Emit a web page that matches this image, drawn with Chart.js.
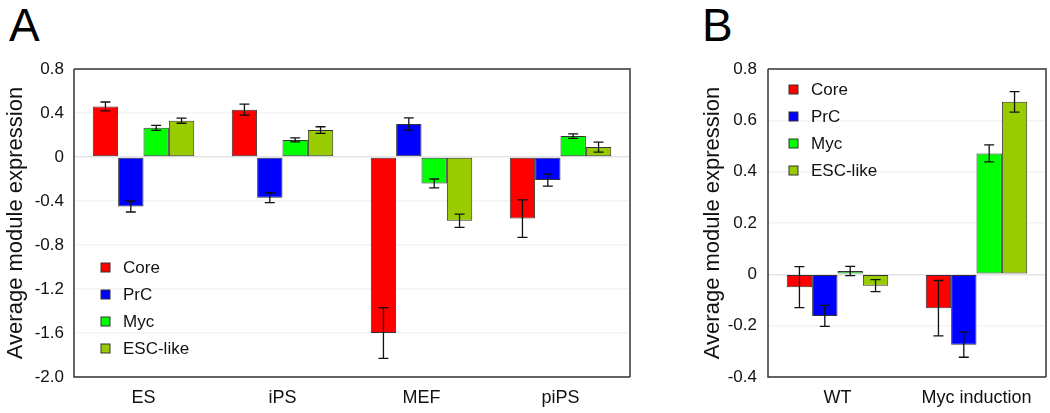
<!DOCTYPE html>
<html>
<head>
<meta charset="utf-8">
<script src="https://cdn.jsdelivr.net/npm/chart.js"></script>
<style>
  body { margin: 0; background: #fff; width: 1050px; height: 413px; position: relative; overflow: hidden; font-family: "Liberation Sans", Arial, sans-serif; }
  canvas { position: absolute; top: 0; }
  #chartA { left: 0; }
  #chartB { left: 690px; }
  .panel { position: absolute; top: -2px; font-size: 46px; line-height: normal; color: #000; }
</style>
</head>
<body>
<div class="panel" style="left:9px">A</div>
<div class="panel" style="left:702px">B</div>
<canvas id="chartA" width="660" height="413"></canvas>
<canvas id="chartB" width="360" height="413"></canvas>
<script>
// Module names and colours
const modules = ['Core', 'PrC', 'Myc', 'ESC-like'];
const moduleColors = ['#ff0000', '#0000ff', '#00ff00', '#99cc00'];

// Panel A
const cellTypes = ['ES', 'iPS', 'MEF', 'piPS'];
const coreA = [0.46, 0.43, -1.60, -0.56];
const prcA = [-0.45, -0.37, 0.30, -0.21];
const mycA = [0.265, 0.155, -0.24, 0.19];
const escA = [0.33, 0.245, -0.58, 0.09];
const coreErrA = [0.04, 0.05, 0.23, 0.17];
const prcErrA = [0.05, 0.045, 0.055, 0.055];
const mycErrA = [0.023, 0.018, 0.04, 0.02];
const escErrA = [0.023, 0.03, 0.06, 0.045];
const yTicksA = [0.8, 0.4, 0, -0.4, -0.8, -1.2, -1.6, -2.0];
const yTickLabelsA = ['0.8', '0.4', '0', '-0.4', '-0.8', '-1.2', '-1.6', '-2.0'];

// Panel B
const conditions = ['WT', 'Myc induction'];
const coreB = [-0.05, -0.132];
const prcB = [-0.162, -0.274];
const mycB = [0.013, 0.471];
const escB = [-0.044, 0.672];
const coreErrB = [0.08, 0.108];
const prcErrB = [0.041, 0.049];
const mycErrB = [0.018, 0.033];
const escErrB = [0.023, 0.04];
const yTicksB = [0.8, 0.6, 0.4, 0.2, 0, -0.2, -0.4];
const yTickLabelsB = ['0.8', '0.6', '0.4', '0.2', '0', '-0.2', '-0.4'];

const FONT = '"Liberation Sans", Arial, sans-serif';

// error bars drawn on top of the bars
const errorBars = {
    id: 'errorBars',
    afterDatasetsDraw(chart) {
        const ctx = chart.ctx;
        const y = chart.scales.y;
        ctx.save();
        ctx.strokeStyle = '#111';
        ctx.lineWidth = 1.3;
        chart.data.datasets.forEach((ds, i) => {
            const meta = chart.getDatasetMeta(i);
            meta.data.forEach((bar, j) => {
                const v = ds.data[j];
                const e = ds.errors[j];
                const top = y.getPixelForValue(v + e);
                const bot = y.getPixelForValue(v - e);
                ctx.beginPath();
                ctx.moveTo(bar.x, top);
                ctx.lineTo(bar.x, bot);
                ctx.moveTo(bar.x - 5, top);
                ctx.lineTo(bar.x + 5, top);
                ctx.moveTo(bar.x - 5, bot);
                ctx.lineTo(bar.x + 5, bot);
                ctx.stroke();
            });
        });
        ctx.restore();
    }
};

// plot frame + legend inside the plot
const frameLegend = {
    id: 'frameLegend',
    afterDraw(chart, args, opts) {
        const ctx = chart.ctx;
        const a = chart.chartArea;
        ctx.save();
        ctx.strokeStyle = '#666';
        ctx.lineWidth = 2;
        ctx.beginPath();
        ctx.moveTo(a.left, a.top);
        ctx.lineTo(a.right, a.top);
        ctx.lineTo(a.right, a.bottom);
        ctx.stroke();
        ctx.strokeStyle = '#333';
        ctx.lineWidth = 1.5;
        ctx.beginPath();
        ctx.moveTo(a.left, a.top);
        ctx.lineTo(a.left, a.bottom);
        ctx.lineTo(a.right, a.bottom);
        ctx.stroke();

        ctx.font = '17px ' + FONT;
        ctx.textBaseline = 'middle';
        chart.data.datasets.forEach((ds, i) => {
            const lx = a.left + opts.x;
            const ly = a.top + opts.y + i * 27;
            ctx.fillStyle = ds.backgroundColor;
            ctx.fillRect(lx, ly - 5, 9, 9);
            ctx.strokeStyle = '#333';
            ctx.lineWidth = 1;
            ctx.strokeRect(lx, ly - 5, 9, 9);
            ctx.fillStyle = '#111';
            ctx.fillText(ds.label, lx + 22, ly);
        });
        ctx.restore();
    }
};

function makeChart(id, labels, series, errors, ticks, tickLabels, opt) {
    const datasets = modules.map((m, i) => ({
        label: m,
        data: series[i],
        errors: errors[i],
        backgroundColor: moduleColors[i],
        borderColor: '#333',
        borderWidth: 1,
        borderSkipped: false,
        categoryPercentage: 0.73,
        barPercentage: 1.0
    }));
    return new Chart(document.getElementById(id), {
        type: 'bar',
        data: { labels: labels, datasets: datasets },
        options: {
            responsive: false,
            animation: false,
            devicePixelRatio: 1,
            layout: { padding: { left: 0, top: 69, right: opt.right, bottom: 0 } },
            plugins: {
                legend: { display: false },
                tooltip: { enabled: false },
                frameLegend: { x: opt.legendX, y: opt.legendY }
            },
            scales: {
                x: {
                    grid: { display: false, drawTicks: false },
                    border: { display: false },
                    ticks: { color: '#111', font: { family: FONT, size: 18 }, padding: 10 },
                    afterFit(scale) { scale.height = 36; }
                },
                y: {
                    min: ticks[ticks.length - 1],
                    max: ticks[0],
                    afterBuildTicks(scale) { scale.ticks = ticks.map(v => ({ value: v })); },
                    grid: {
                        drawTicks: false,
                        color: c => (c.tick && c.tick.value === 0) ? '#e4e4e4' : '#f3f3f3',
                        lineWidth: 1.5
                    },
                    border: { display: false },
                    ticks: {
                        color: '#111',
                        font: { family: FONT, size: 17 },
                        padding: opt.tickPad,
                        callback: (v, i) => tickLabels[i]
                    },
                    title: {
                        display: true,
                        text: 'Average module expression',
                        color: '#111',
                        font: { family: FONT, size: 22 },
                        padding: { top: opt.titlePad, bottom: 0 }
                    },
                    afterFit(scale) { scale.width = opt.axisW; }
                }
            }
        },
        plugins: [errorBars, frameLegend]
    });
}

makeChart('chartA', cellTypes,
    [coreA, prcA, mycA, escA], [coreErrA, prcErrA, mycErrA, escErrA],
    yTicksA, yTickLabelsA,
    { right: 30, axisW: 74, tickPad: 10, titlePad: 3, legendX: 27, legendY: 199 });

makeChart('chartB', conditions,
    [coreB, prcB, mycB, escB], [coreErrB, prcErrB, mycErrB, escErrB],
    yTicksB, yTickLabelsB,
    { right: 4, axisW: 78, tickPad: 11, titlePad: 10, legendX: 21, legendY: 21 });
</script>
</body>
</html>
